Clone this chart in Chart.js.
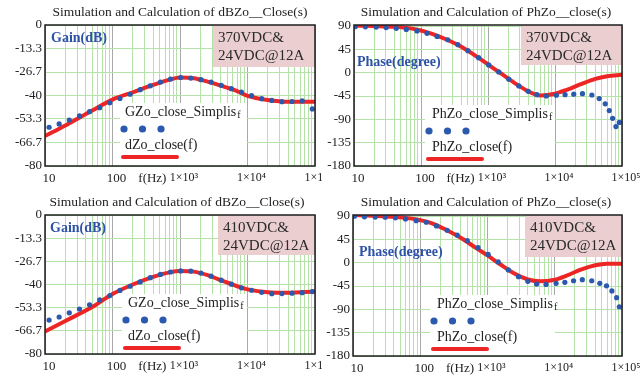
<!DOCTYPE html>
<html>
<head>
<meta charset="utf-8">
<script src="https://cdn.jsdelivr.net/npm/chart.js@4.4.1/dist/chart.umd.min.js"></script>
<style>
  body { margin: 0; background: #fff; width: 644px; height: 381px; position: relative; overflow: hidden; }
  canvas { position: absolute; }
</style>
</head>
<body>
<canvas id="p1" width="322" height="190" style="left:0;top:0"></canvas>
<canvas id="p2" width="322" height="190" style="left:322px;top:0"></canvas>
<canvas id="p3" width="322" height="191" style="left:0;top:190px"></canvas>
<canvas id="p4" width="322" height="191" style="left:322px;top:190px"></canvas>
<script>
// x axis: grid lines every 1..9 per decade, labels only on decades + unit
const xGrid = [10, 20, 30, 40, 50, 60, 70, 80, 90,
  100, 200, 300, 340, 400, 500, 600, 700, 800, 900,
  1000, 2000, 3000, 4000, 5000, 6000, 7000, 8000, 9000,
  10000, 20000, 30000, 40000, 50000, 60000, 70000, 80000, 90000, 100000];
const xDecades = [10, 100, 1000, 10000, 100000];
const xLabelVals = [10, 100, 340, 1000, 10000, 100000];
const xLabelText = ['10', '100', 'f(Hz)', '1×10³', '1×10⁴', '1×10⁵'];

const gainTicks = [0, -13.3, -26.7, -40, -53.3, -66.7, -80];
const phaseTicks = [90, 45, 0, -45, -90, -135, -180];

// SIMPLIS simulation points (dots)
const gainSimFreq = [11.5, 16.2, 22.9, 32.4, 45.7, 64.6, 91.2, 129, 182, 257, 363, 513, 724, 1023,
  1445, 2042, 2884, 4074, 5754, 8128, 11480, 16220, 22910, 32360, 45710, 64570, 91200];
const gain370Sim = [-58, -56.1, -53.9, -51.6, -49.2, -46.9, -44.1, -41.7, -39.3, -36.7, -34.5, -32.4, -30.7, -29.8,
  -30.1, -31, -32.4, -34.2, -36.1, -38, -40.1, -41.8, -42.8, -43.5, -43.4, -43.1, -47.6];
const gain410Sim = [-60.5, -58.7, -56.3, -54.1, -51.7, -48.9, -46.4, -43.4, -41, -38.5, -36.1, -34.2, -32.8, -32.2,
  -32.3, -33.4, -35.2, -37.5, -39.8, -41.9, -43.3, -44.5, -45.3, -45.2, -45, -44.7, -44.1];

const phase370SimFreq = [10.5, 14.8, 21.4, 30.2, 42.7, 60.3, 87.1, 123, 174, 251, 355, 501, 724, 1023, 1445,
  2042, 2884, 3981, 5370, 7413, 10470, 14130, 19050, 25700, 35480, 45710, 56230, 64570, 72440, 81280, 91200];
const phase370Sim = [89, 88.5, 88, 87, 85.5, 83.5, 80.5, 76, 70, 63.5, 54, 42.5, 29, 15, 1.5,
  -12.5, -25.5, -36, -42.5, -45, -43.5, -42.5, -41.5, -40.5, -43, -50, -60, -73, -88, -104, -96];
const phase410SimFreq = [10.5, 14.8, 21.4, 30.2, 42.7, 60.3, 87.1, 123, 174, 251, 355, 501, 724, 1023, 1445,
  2042, 2884, 3981, 5370, 7413, 10470, 14130, 19050, 25700, 35480, 46770, 58880, 70790, 83180, 91200];
const phase410Sim = [89.7, 88.5, 88, 87.7, 86.5, 84.5, 81, 78, 71, 62.5, 53, 42.5, 29, 16, 1.5,
  -14, -27, -36, -41.3, -41.9, -39.9, -37.9, -34.8, -32.8, -34.8, -39.9, -44.6, -54.4, -67.4, -85];

// calculated curves (red)
const gainCalcFreq = [10, 20, 50, 100, 200, 400, 700, 1000, 1600, 2500, 4000, 7000, 10000, 20000, 40000, 100000];
const gain370Calc = [-63, -57, -48.5, -42.3, -38.2, -34, -31, -29.8, -30.2, -32, -34.4, -37.5, -40.2, -42.6, -43.6, -43.6];
const gain410Calc = [-67, -61, -53, -45.5, -40, -35.6, -33, -32.2, -32.6, -34.5, -37.5, -41, -42.8, -44.5, -44.8, -44];

const phaseCalcFreq = [10, 20, 40, 70, 100, 150, 250, 400, 700, 1000, 1500, 2500, 4000, 6000, 10000, 15000, 25000, 40000, 60000, 100000];
const phase370Calc = [91, 90, 88.5, 85.5, 81.5, 74.5, 63, 50, 30, 16, 0, -20, -36, -44, -40.5, -33, -21.5, -12, -7, -4];
const phase410Calc = [92, 90.5, 88.5, 85.5, 82, 76, 62.5, 48, 27, 14, -2, -21, -32.5, -36, -33, -25, -13, -5, -2, -2];

const SERIF = '"Liberation Serif", "Times New Roman", serif';
const GREEN = '#b4e2a9';
const GRAY = '#a9a9a9';
const BLUE = '#2b59ae';
const RED = '#ee2525';
const PINK = '#eaced0';

function pts(xs, ys) {
  return xs.map((x, i) => ({x: x, y: ys[i]}));
}

// draws title, frame, notes and legend of one panel
const decor = {
  id: 'decor',
  beforeDatasetsDraw(chart, args, o) {
    const c = chart.ctx;
    c.save();
    // note box
    c.fillStyle = PINK;
    c.fillRect(o.note[0], o.note[1], o.note[2], o.note[3]);
    c.fillStyle = '#2a2a2a';
    c.font = '15px ' + SERIF;
    c.textBaseline = 'middle';
    c.textAlign = 'left';
    c.fillText(o.noteText[0], o.note[0] + 5, o.note[1] + 13);
    c.fillText(o.noteText[1], o.note[0] + 5, o.note[1] + 31);
    // axis name
    c.fillStyle = '#2d52a6';
    c.font = 'bold 14px ' + SERIF;
    c.fillText(o.axisName, o.axisPos[0], o.axisPos[1]);
    // legend box
    const b = o.legend;
    c.fillStyle = '#fff';
    c.fillRect(b[0], b[1], b[2], b[3]);
    c.fillStyle = '#222';
    c.font = '14px ' + SERIF;
    const tx = b[0] + o.textDx;
    c.fillText(o.simName, tx, b[1] + 9);
    const w = c.measureText(o.simName).width;
    c.font = '10px ' + SERIF;
    c.fillText('f', tx + w + 1, b[1] + 12);
    c.font = '14px ' + SERIF;
    c.fillText(o.calcName, tx, b[1] + 42);
    c.fillStyle = BLUE;
    for (let k = 0; k < 3; k++) {
      c.beginPath();
      c.arc(b[0] + 4 + k * 18.5, b[1] + 26, 3.6, 0, Math.PI * 2);
      c.fill();
    }
    c.strokeStyle = RED;
    c.lineWidth = 4;
    c.lineCap = 'round';
    c.beginPath();
    c.moveTo(b[0] + 3, b[1] + 54);
    c.lineTo(b[0] + 57, b[1] + 54);
    c.stroke();
    c.restore();
  },
  afterDraw(chart, args, o) {
    const c = chart.ctx, a = chart.chartArea;
    c.save();
    c.strokeStyle = '#1e1e1e';
    c.lineWidth = 1.5;
    c.strokeRect(a.left, a.top, a.right - a.left, a.bottom - a.top);
    c.fillStyle = '#222';
    c.font = '13.5px ' + SERIF;
    c.textAlign = 'center';
    c.textBaseline = 'middle';
    c.fillText(o.title, o.titleX, 12);
    c.restore();
  }
};

function makePanel(id, p) {
  new Chart(document.getElementById(id), {
    type: 'scatter',
    data: {
      datasets: [
        {
          label: p.simName,
          data: pts(p.simFreq, p.sim),
          pointRadius: 2.6,
          pointBackgroundColor: BLUE,
          pointBorderWidth: 0,
          showLine: false
        },
        {
          label: p.calcName,
          data: pts(p.calcFreq, p.calc),
          showLine: true,
          borderColor: RED,
          borderWidth: 4,
          pointRadius: 0,
          cubicInterpolationMode: 'monotone'
        }
      ]
    },
    options: {
      responsive: false,
      animation: false,
      events: [],
      layout: {padding: {left: 0, right: p.padRight, top: 25, bottom: 0}},
      plugins: {
        legend: {display: false},
        tooltip: {enabled: false},
        decor: p
      },
      scales: {
        x: {
          type: 'logarithmic',
          min: 10,
          max: 100000,
          border: {display: false},
          grid: {
            drawTicks: false,
            lineWidth: 1,
            color: ctx => {
              if (!ctx.tick) return GREEN;
              const v = ctx.tick.value;
              if (v === 340) return 'rgba(0,0,0,0)';
              return xDecades.includes(v) ? GRAY : GREEN;
            }
          },
          afterBuildTicks: s => { s.ticks = xGrid.map(v => ({value: v})); },
          afterFit: s => { s.height = p.xHeight; s.paddingLeft = 0; s.paddingRight = 0; },
          ticks: {
            autoSkip: false,
            maxRotation: 0,
            padding: 5,
            labelOffset: 4,
            color: '#222',
            font: ctx => ({family: SERIF, size: (ctx.tick && ctx.tick.value >= 1000) ? 12 : 13}),
            callback: v => {
              const i = xLabelVals.indexOf(v);
              return i < 0 ? '' : xLabelText[i];
            }
          }
        },
        y: {
          min: p.yMin,
          max: p.yMax,
          border: {display: false},
          grid: {drawTicks: false, color: GREEN, lineWidth: 1},
          afterBuildTicks: s => { s.ticks = p.yTicks.map(v => ({value: v})); },
          afterFit: s => { s.width = p.yWidth; s.paddingTop = 0; s.paddingBottom = 0; },
          ticks: {
            padding: 3,
            color: '#222',
            font: {family: SERIF, size: 13},
            callback: v => String(v)
          }
        }
      }
    },
    plugins: [decor]
  });
}

makePanel('p1', {
  title: 'Simulation and Calculation of dBZo__Close(s)', titleX: 180,
  yTicks: gainTicks, yMin: -80, yMax: 0, yWidth: 45, padRight: 7, xHeight: 24,
  simFreq: gainSimFreq, sim: gain370Sim, calcFreq: gainCalcFreq, calc: gain370Calc,
  simName: 'GZo_close_Simplis', calcName: 'dZo_close(f)',
  note: [213, 25, 102, 42], noteText: ['370VDC&', '24VDC@12A'],
  axisName: 'Gain(dB)', axisPos: [51, 38],
  legend: [120, 103, 127, 62], textDx: 5
});
makePanel('p2', {
  title: 'Simulation and Calculation of PhZo__close(s)', titleX: 164,
  yTicks: phaseTicks, yMin: -180, yMax: 92, yWidth: 32, padRight: 22, xHeight: 24,
  simFreq: phase370SimFreq, sim: phase370Sim, calcFreq: phaseCalcFreq, calc: phase370Calc,
  simName: 'PhZo_close_Simplis', calcName: 'PhZo_close(f)',
  note: [199, 25, 101, 40], noteText: ['370VDC&', '24VDC@12A'],
  axisName: 'Phase(degree)', axisPos: [35, 62],
  legend: [103, 105, 130, 61], textDx: 7
});
makePanel('p3', {
  title: 'Simulation and Calculation of dBZo__Close(s)', titleX: 177,
  yTicks: gainTicks, yMin: -80, yMax: 0, yWidth: 45, padRight: 7, xHeight: 27,
  simFreq: gainSimFreq, sim: gain410Sim, calcFreq: gainCalcFreq, calc: gain410Calc,
  simName: 'GZo_close_Simplis', calcName: 'dZo_close(f)',
  note: [218, 25, 97, 40], noteText: ['410VDC&', '24VDC@12A'],
  axisName: 'Gain(dB)', axisPos: [50, 38],
  legend: [122, 104, 125, 60], textDx: 6
});
makePanel('p4', {
  title: 'Simulation and Calculation of PhZo__close(s)', titleX: 164,
  yTicks: phaseTicks, yMin: -180, yMax: 92, yWidth: 31, padRight: 22, xHeight: 25,
  simFreq: phase410SimFreq, sim: phase410Sim, calcFreq: phaseCalcFreq, calc: phase410Calc,
  simName: 'PhZo_close_Simplis', calcName: 'PhZo_close(f)',
  note: [203, 25, 97, 42], noteText: ['410VDC&', '24VDC@12A'],
  axisName: 'Phase(degree)', axisPos: [37, 62],
  legend: [108, 105, 125, 61], textDx: 7
});
</script>
</body>
</html>
